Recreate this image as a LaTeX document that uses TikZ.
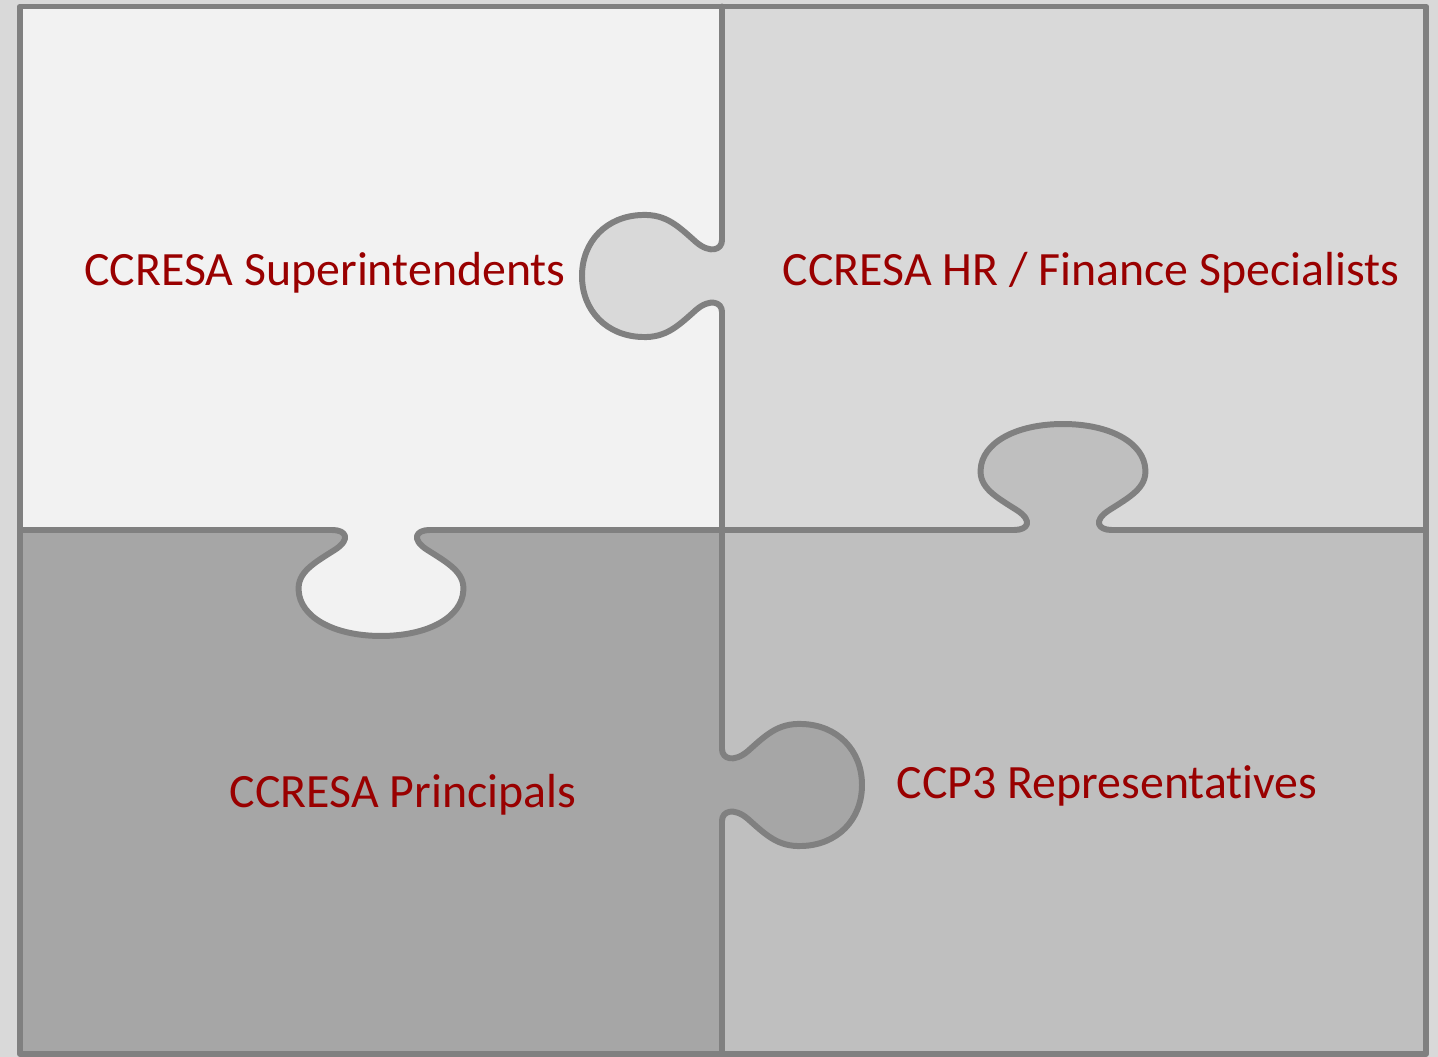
\documentclass[tikz,border=0pt]{standalone}
\usepackage{fontspec}
\setmainfont{Carlito}[Ligatures=NoCommon]
\definecolor{piecetl}{HTML}{F2F2F2}
\definecolor{piecetr}{HTML}{D9D9D9}
\definecolor{piecebl}{HTML}{A6A6A6}
\definecolor{piecebr}{HTML}{BFBFBF}
\definecolor{edgegray}{HTML}{808080}
\definecolor{labelred}{RGB}{153,0,0}
% one puzzle knob, edge along u, bulb towards +v
\newcommand{\knobpath}{(-36,0) .. controls (-26,0) and (-22,12) .. (-34,26)
  .. controls (-50,44) and (-62,56) .. (-61,80)
  .. controls (-60,115) and (-35,140) .. (0,140)
  .. controls (35,140) and (60,115) .. (61,80)
  .. controls (62,56) and (50,44) .. (34,26)
  .. controls (22,12) and (26,0) .. (36,0)}

\begin{document}
\begin{tikzpicture}[
  x=0.01cm, y=0.01cm,
  edge/.style = {draw=edgegray, line width=1.7pt, line cap=round, line join=round},
  label/.style = {text=labelred, font=\fontsize{13.6}{16}\selectfont, anchor=base},
  wideknob/.style = {xscale=1.35, yscale=0.757}
]
  \useasboundingbox[fill=piecetr] (0,0) rectangle (1438,1057);

  % the four pieces
  \fill[piecetl] (20,527) rectangle (722,1050.5);
  \fill[piecetr] (722,527) rectangle (1426,1050.5);
  \fill[piecebl] (20,3) rectangle (722,527);
  \fill[piecebr] (722,3) rectangle (1426,527);

  % knobs
  \begin{scope}[shift={(722,781)}, rotate=90]
    \fill[piecetr] \knobpath -- cycle;
    \draw[edge] \knobpath;
  \end{scope}
  \begin{scope}[shift={(722,272)}, rotate=-90]
    \fill[piecebl] \knobpath -- cycle;
    \draw[edge] \knobpath;
  \end{scope}
  \begin{scope}[shift={(381,527)}, rotate=180, wideknob]
    \fill[piecetl] \knobpath -- cycle;
    \draw[edge] \knobpath;
  \end{scope}
  \begin{scope}[shift={(1063,527)}, wideknob]
    \fill[piecebr] \knobpath -- cycle;
    \draw[edge] \knobpath;
  \end{scope}

  % dividers
  \coordinate (vtop) at (722,1050.5);
  \coordinate (vbot) at (722,3);
  \coordinate (hleft) at (20,527);
  \coordinate (hright) at (1426,527);
  \draw[edge] (vtop) -- (722,817) (722,745) -- (722,308) (722,236) -- (vbot);
  \draw[edge] (hleft) -- (332.4,527) (429.6,527) -- (1014.4,527) (1111.6,527) -- (hright);

  % frame
  \draw[edge] (20,3) rectangle (1426,1050.5);

  \node[label] (supt) at (325,771) {CCRESA Superintendents};
  \node[label] (hrfin) at (1091,771) {CCRESA HR / Finance Specialists};
  \node[label] (princ) at (403,249) {CCRESA Principals};
  \node[label] (ccp3) at (1107,258) {CCP3 Representatives};
\end{tikzpicture}
\end{document}
